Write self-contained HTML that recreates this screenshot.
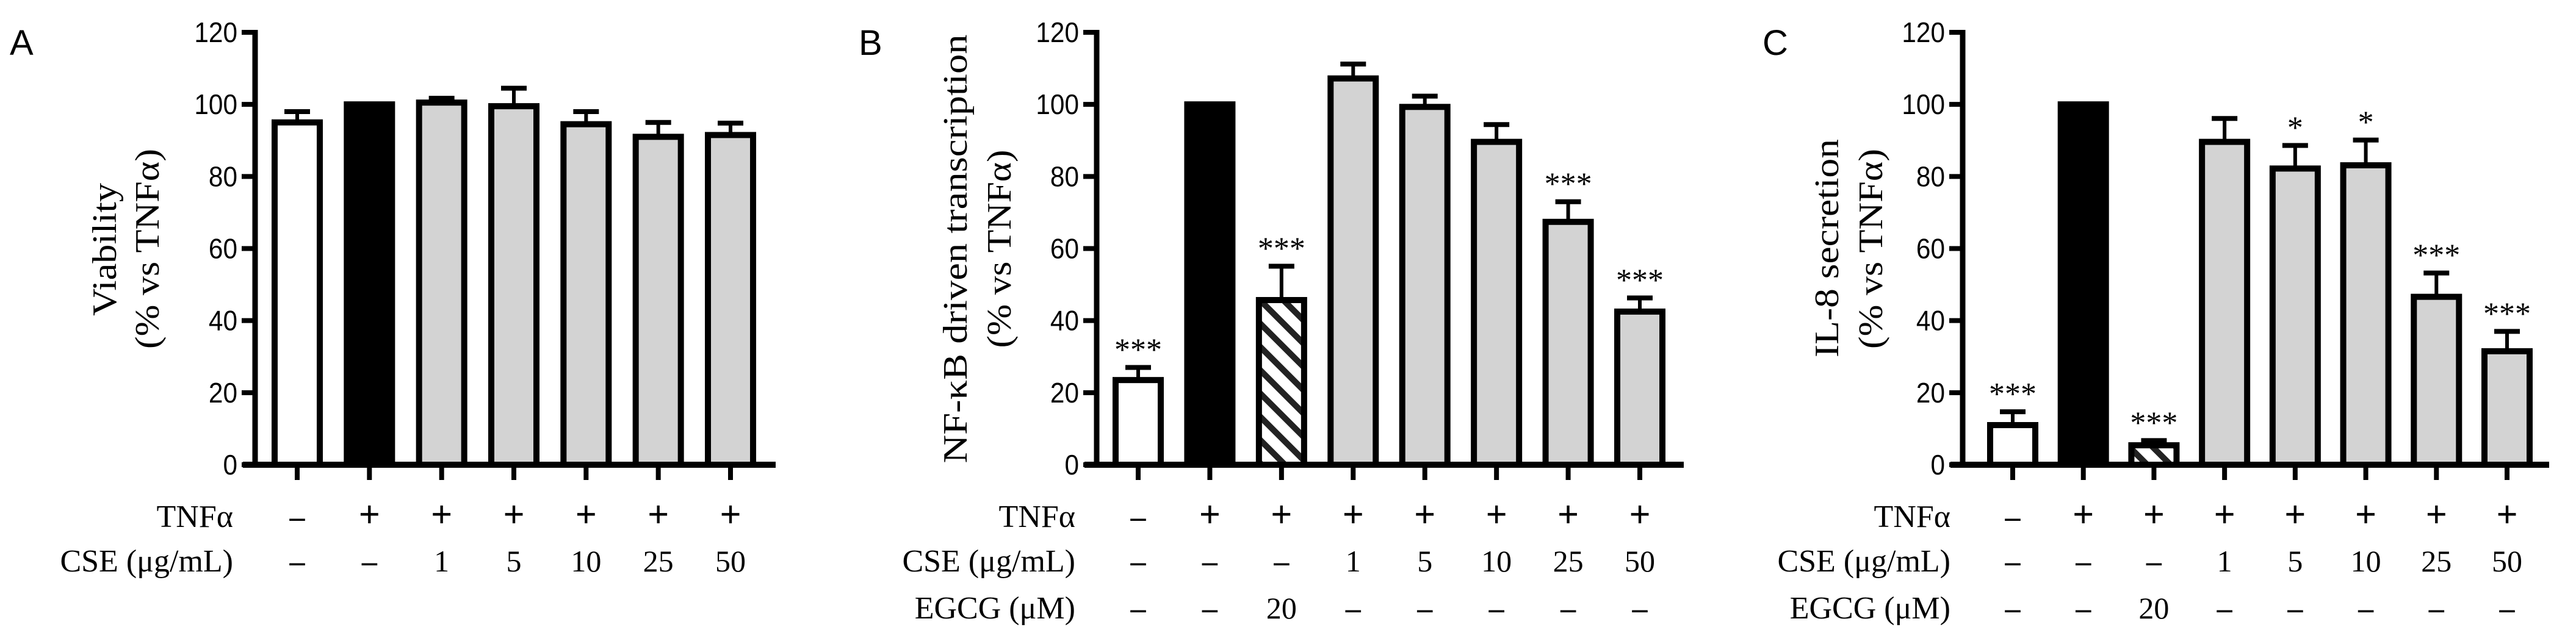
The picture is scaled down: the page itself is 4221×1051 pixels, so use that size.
<!DOCTYPE html>
<html><head><meta charset="utf-8"><style>
html,body{margin:0;padding:0;background:#fff;}
svg{display:block;}
</style></head><body>
<svg id="fig" width="4221" height="1051" viewBox="0 0 4221 1051" xmlns="http://www.w3.org/2000/svg">
<defs>
<pattern id="hatch" patternUnits="userSpaceOnUse" width="27" height="27" patternTransform="rotate(-45)">
<rect x="0" y="0" width="27" height="27" fill="#fff"/>
<rect x="0" y="0" width="10" height="27" fill="#222"/>
</pattern>
</defs>
</svg>
<script>
const yTicks = [0, 20, 40, 60, 80, 100, 120];
const tnfRow = ["–", "+", "+", "+", "+", "+", "+", "+"];
const cseRowA = ["–", "–", "1", "5", "10", "25", "50"];
const cseRowBC = ["–", "–", "–", "1", "5", "10", "25", "50"];
const egcgRow = ["–", "–", "20", "–", "–", "–", "–", "–"];
const fillsA = ["white", "black", "gray", "gray", "gray", "gray", "gray"];
const fillsBC = ["white", "black", "hatch", "gray", "gray", "gray", "gray", "gray"];
const valuesA = [95, 100, 100.5, 99.5, 94.5, 91, 91.5];
const errorsA = [3, 0, 1.2, 5, 3.5, 4, 3.3];
const starsA = ["", "", "", "", "", "", ""];
const valuesB = [23.5, 100, 45.7, 107.2, 99.3, 89.6, 67.4, 42.5];
const errorsB = [3.5, 0, 9.4, 4, 3, 4.8, 5.6, 3.8];
const starsB = ["***", "", "***", "", "", "", "***", "***"];
const valuesC = [11, 100, 5.4, 89.6, 82.2, 83.1, 46.6, 31.5];
const errorsC = [3.7, 0, 1.3, 6.5, 6.4, 7, 6.6, 5.5];
const starsC = ["***", "", "***", "", "*", "*", "***", "***"];

const NS = "http://www.w3.org/2000/svg";
const svg = document.getElementById("fig");
const Y0 = 762, YTOP = 53;
function yScale(v){ return Y0 - v * (Y0 - YTOP) / 120; }
function mk(tag, attrs, parent){
  const e = document.createElementNS(NS, tag);
  for (const k in attrs) e.setAttribute(k, attrs[k]);
  (parent || svg).appendChild(e);
  return e;
}
const SERIF = '"Liberation Serif", serif';
const SANS = '"Liberation Sans", sans-serif';

function panel(cfg){
  const g = mk("g", {});
  
  
  const n = cfg.values.length;
  const xOf = i => cfg.x0 + i * (cfg.x1 - cfg.x0) / (n - 1);
  const L = mk("text", {x: cfg.letterX, y: 90, "font-family": SANS, "font-size": 58, fill: "#000"}, g);
  L.textContent = cfg.letter;
  
  
  for (let i = 0; i < n; i++){
    const cx = xOf(i), v = cfg.values[i], top = yScale(v);
    const f = cfg.fills[i];
    let fill = f === "white" ? "#fff" : f === "black" ? "#000" : f === "hatch" ? "url(#hatch)" : "#d3d3d3";
    const r = mk("rect", {x: cx - 37, y: top, width: 74, height: Y0 - top, fill: fill, stroke: "#000", "stroke-width": 10}, g);
    
    
    const e = cfg.errors[i];
    if (e > 0){
      const et = yScale(v + e);
      const s = mk("line", {x1: cx, x2: cx, y1: top, y2: et, stroke: "#000", "stroke-width": 6}, g);
      
      
      const c = mk("line", {x1: cx - 21, x2: cx + 21, y1: et, y2: et, stroke: "#000", "stroke-width": 8}, g);
      
      
    }
    if (cfg.stars[i]){
      const st = mk("text", {x: cx, y: yScale(v + e) - 12, "text-anchor": "middle", "font-family": SERIF, "font-size": 52, fill: "#000"}, g);
      st.textContent = cfg.stars[i];
      
      
    }
    const t = mk("line", {x1: cx, x2: cx, y1: Y0, y2: 787, stroke: "#000", "stroke-width": 8}, g);
    
    
  }
  const ya = mk("line", {x1: cfg.axisX, x2: cfg.axisX, y1: YTOP - 4, y2: Y0 + 5, stroke: "#000", "stroke-width": 9}, g);
  
  
  const xa = mk("line", {x1: cfg.axisX - 20, x2: cfg.axisEnd, y1: Y0, y2: Y0, stroke: "#000", "stroke-width": 10}, g);
  
  
  yTicks.forEach(tv => {
    const yy = yScale(tv);
    const tk = mk("line", {x1: cfg.axisX - 22, x2: cfg.axisX, y1: yy, y2: yy, stroke: "#000", "stroke-width": 8}, g);
    
    
    const tl = mk("text", {x: cfg.axisX - 29, y: yy + 16, "text-anchor": "end", "font-family": SANS, "font-size": 46, fill: "#000", transform: `translate(${cfg.axisX - 29},0) scale(0.92,1) translate(${-(cfg.axisX - 29)},0)`}, g);
    tl.textContent = tv;
    
    
  });
  cfg.title.forEach((line, k) => {
    const tx = cfg.titleX[k];
    const tt = mk("text", {x: 0, y: 0, "text-anchor": "middle", "dominant-baseline": "central", "font-family": SERIF, "font-size": 56, fill: "#000", textLength: cfg.titleLen[k], lengthAdjust: "spacingAndGlyphs", transform: `translate(${tx},${cfg.titleY[k]}) rotate(-90)`}, g);
    tt.textContent = line;
    
    
  });
  cfg.rows.forEach((row, k) => {
    const ry = [847, 920, 997][k];
    const lab = mk("text", {x: cfg.rowLabelX, y: ry + 17, "text-anchor": "end", "font-family": SERIF, "font-size": 52, fill: "#000"}, g);
    lab.textContent = row.label;
    
    
    row.vals.forEach((s, i) => {
      const cx = xOf(i);
      const tv = mk("text", {x: cx, y: ry + 17, "text-anchor": "middle", "font-family": SERIF, "font-size": s === "+" ? 62 : 50, "font-weight": (s === "+" || s === "–") ? "bold" : "normal", fill: "#000"}, g);
      tv.textContent = s;
      
      
    });
  });
}

panel({name: "panel-a-viability", letter: "A", letterX: 16, axisX: 418, axisEnd: 1271, x0: 487, x1: 1197,
  values: valuesA, errors: errorsA, stars: starsA, fills: fillsA,
  title: ["Viability", "(% vs TNFα)"], titleX: [172, 242], titleY: [409, 408], titleLen: [218, 328],
  rowLabelX: 382, rows: [{label: "TNFα", vals: tnfRow.slice(0, 7)}, {label: "CSE (μg/mL)", vals: cseRowA}]});
panel({name: "panel-b-nfkb", letter: "B", letterX: 1407, axisX: 1797, axisEnd: 2759, x0: 1865, x1: 2687,
  values: valuesB, errors: errorsB, stars: starsB, fills: fillsBC,
  title: ["NF-κB driven transcription", "(% vs TNFα)"], titleX: [1566, 1638], titleY: [408, 408], titleLen: [703, 325],
  rowLabelX: 1762, rows: [{label: "TNFα", vals: tnfRow}, {label: "CSE (μg/mL)", vals: cseRowBC}, {label: "EGCG (μM)", vals: egcgRow}]});
panel({name: "panel-c-il8", letter: "C", letterX: 2888, axisX: 3216, axisEnd: 4177, x0: 3298, x1: 4108,
  values: valuesC, errors: errorsC, stars: starsC, fills: fillsBC,
  title: ["IL-8 secretion", "(% vs TNFα)"], titleX: [2994, 3066], titleY: [407, 408], titleLen: [358, 328],
  rowLabelX: 3196, rows: [{label: "TNFα", vals: tnfRow}, {label: "CSE (μg/mL)", vals: cseRowBC}, {label: "EGCG (μM)", vals: egcgRow}]});
</script>
</body></html>
